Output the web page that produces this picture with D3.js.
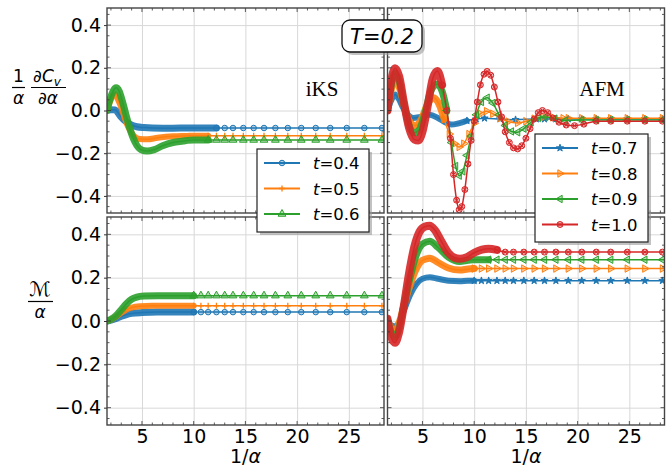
<!DOCTYPE html>
<html>
<head>
<meta charset="utf-8">
<script src="https://cdn.jsdelivr.net/npm/d3@7"></script>
<style>
  body { margin: 0; background: #fff; }
  svg { display: block; font-family: "DejaVu Sans", sans-serif; }
</style>
</head>
<body>
<div id="chart"></div>
<script>
// ---- data ----
var xDomain = [1.62, 28.4];
var yDomain = [-0.48, 0.48];
var xTicks = [5, 10, 15, 20, 25];
var yTicks = [-0.4, -0.2, 0.0, 0.2, 0.4];

// x positions of the sparse markers in the flat tails
var tailX = [10.0, 10.7, 11.4, 12.2, 13.0, 13.8, 14.8, 15.8, 16.8, 17.9, 19.1, 20.4, 21.8, 23.2, 24.8, 26.5, 28.2, 30.1];

var iksNames = ["0.4", "0.5", "0.6"];
var afmNames = ["0.7", "0.8", "0.9", "1.0"];

// iKS, (1/a) dCv/da
var iksC04 = [[1.62,0],[2.0,0.004],[2.4,0.003],[2.9,-0.025],[3.4,-0.05],[3.9,-0.066],[4.5,-0.076],[5.2,-0.08],[6,-0.082],[8,-0.083],[9.4,-0.082]];
var iksC05 = [[1.62,0],[1.9,0.04],[2.2,0.07],[2.4,0.075],[2.7,0.05],[3.0,0.015],[3.3,-0.03],[3.7,-0.08],[4.2,-0.118],[4.8,-0.134],[5.5,-0.135],[6.5,-0.128],[8,-0.121],[9.4,-0.119]];
var iksC06 = [[1.62,0],[1.9,0.05],[2.2,0.09],[2.5,0.106],[2.8,0.09],[3.1,0.045],[3.4,-0.01],[3.8,-0.08],[4.3,-0.145],[4.9,-0.183],[5.5,-0.19],[6.2,-0.183],[7,-0.165],[8,-0.15],[9,-0.143],[9.4,-0.14]];
var iksCTail = [-0.082, -0.118, -0.138];

// iKS, M/a
var iksM04 = [[1.62,0],[2,0.004],[2.5,0.012],[3,0.022],[3.5,0.03],[4,0.035],[5,0.039],[6.5,0.041],[9.4,0.041]];
var iksM05 = [[1.62,0],[2,0.006],[2.5,0.02],[3,0.038],[3.5,0.053],[4,0.062],[4.8,0.068],[6,0.07],[9.4,0.07]];
var iksM06 = [[1.62,0],[2,0.008],[2.5,0.025],[3,0.052],[3.5,0.08],[4,0.1],[4.5,0.11],[5.2,0.115],[6.5,0.117],[9.4,0.117]];
var iksMTail = [0.041, 0.07, 0.117];

// AFM, (1/a) dCv/da
var afmC07 = [[1.62,0],[2.0,0.05],[2.35,0.075],[2.7,0.055],[3.1,0.015],[3.6,-0.02],[4.1,-0.035],[4.8,-0.03],[5.7,-0.02],[6.5,-0.035],[7.2,-0.055],[7.8,-0.066],[8.5,-0.06],[9.3,-0.048],[10.2,-0.04],[11,-0.036],[12.5,-0.04],[14,-0.043],[16,-0.04]];
var afmC08 = [[1.62,0],[1.95,0.09],[2.35,0.145],[2.75,0.11],[3.2,0.03],[3.7,-0.045],[4.3,-0.071],[4.9,-0.04],[5.5,0.03],[6.05,0.06],[6.6,0.03],[7.1,-0.04],[7.6,-0.11],[8.1,-0.155],[8.55,-0.171],[9.0,-0.155],[9.5,-0.11],[10.0,-0.06],[10.6,-0.015],[11.2,-0.003],[11.8,-0.015],[12.5,-0.035],[13.3,-0.052],[14.2,-0.058],[15.0,-0.05],[15.8,-0.038],[16.7,-0.03],[17.6,-0.032],[18.6,-0.036]];
var afmC09 = [[1.62,0],[1.95,0.11],[2.35,0.175],[2.75,0.14],[3.2,0.03],[3.7,-0.07],[4.2,-0.105],[4.7,-0.09],[5.2,-0.02],[5.8,0.09],[6.4,0.123],[6.9,0.09],[7.35,0],[7.8,-0.15],[8.2,-0.26],[8.55,-0.305],[8.9,-0.285],[9.3,-0.21],[9.7,-0.12],[10.2,-0.02],[10.7,0.04],[11.25,0.06],[11.8,0.035],[12.4,-0.02],[13.0,-0.07],[13.6,-0.098],[14.2,-0.102],[14.8,-0.085],[15.5,-0.055],[16.2,-0.035],[16.9,-0.03],[17.8,-0.038],[18.8,-0.047]];
var afmC10 = [[1.62,0],[1.95,0.13],[2.35,0.198],[2.75,0.16],[3.2,0.04],[3.7,-0.08],[4.2,-0.135],[4.6,-0.14],[5.0,-0.1],[5.5,0.02],[6.0,0.15],[6.45,0.185],[6.9,0.12],[7.35,0],[7.7,-0.13],[8.0,-0.3],[8.3,-0.42],[8.55,-0.465],[8.8,-0.45],[9.1,-0.37],[9.4,-0.25],[9.7,-0.14],[10.0,-0.05],[10.3,0.04],[10.6,0.12],[10.95,0.17],[11.25,0.183],[11.6,0.165],[11.95,0.11],[12.3,0.04],[12.65,-0.03],[13.0,-0.1],[13.4,-0.15],[13.8,-0.175],[14.2,-0.18],[14.6,-0.165],[15.0,-0.13],[15.4,-0.085],[15.8,-0.04],[16.2,-0.01],[16.6,0.0],[17.1,-0.01],[17.6,-0.035],[18.2,-0.055],[18.9,-0.068],[19.7,-0.071],[20.6,-0.064]];
var afmCTail = [-0.04, -0.036, -0.045, -0.05];

// AFM, M/a
var afmM07 = [[1.62,0],[2.0,-0.02],[2.4,-0.025],[2.8,0.0],[3.3,0.06],[3.8,0.12],[4.4,0.17],[5.0,0.195],[5.7,0.202],[6.5,0.195],[7.5,0.186],[8.6,0.184],[9.4,0.186]];
var afmM08 = [[1.62,0.005],[2.0,-0.035],[2.35,-0.045],[2.7,-0.015],[3.2,0.07],[3.7,0.15],[4.3,0.23],[5.0,0.28],[5.7,0.29],[6.5,0.27],[7.5,0.245],[8.6,0.235],[9.4,0.24]];
var afmM09 = [[1.62,0.008],[2.0,-0.055],[2.35,-0.075],[2.7,-0.04],[3.2,0.07],[3.7,0.18],[4.3,0.29],[5.0,0.355],[5.7,0.368],[6.5,0.34],[7.5,0.295],[8.6,0.275],[9.4,0.28]];
var afmM10 = [[1.62,0.01],[1.95,-0.07],[2.35,-0.1],[2.7,-0.06],[3.2,0.07],[3.7,0.22],[4.2,0.34],[4.7,0.41],[5.2,0.435],[5.7,0.44],[6.2,0.42],[6.8,0.37],[7.5,0.315],[8.1,0.292],[8.6,0.287],[9.3,0.295],[10.0,0.315],[11.4,0.333],[12.2,0.328]];
var afmMTail = [0.186, 0.242, 0.283, 0.318];

// ---- styles ----
var colors = ["#1f77b4", "#ff7f0e", "#2ca02c", "#d62728"];

function withTail(pts, y) {
  var last = pts[pts.length - 1][0];
  return pts.concat(tailX.filter(function(x) { return x > last + 0.3; }).map(function(x) { return [x, y]; }));
}

var iksStyle = [
  {color: colors[0], marker: "circle", band: 7},
  {color: colors[1], marker: "plus", band: 6},
  {color: colors[2], marker: "triUp", band: 7}
];
var afmStyle = [
  {color: colors[0], marker: "star", band: 6},
  {color: colors[1], marker: "triRight", band: 7},
  {color: colors[2], marker: "triLeft", band: 7},
  {color: colors[3], marker: "octo", band: 8}
];

var panels = [
  {left: 107, right: 384, top: 8, bottom: 213, xLabels: false, yLabels: true,
   series: [withTail(iksC04, iksCTail[0]), withTail(iksC05, iksCTail[1]), withTail(iksC06, iksCTail[2])],
   cuts: [12, 11, 11], style: iksStyle},
  {left: 387.5, right: 664.5, top: 8, bottom: 213, xLabels: false, yLabels: false,
   series: [withTail(afmC07, afmCTail[0]), withTail(afmC08, afmCTail[1]), withTail(afmC09, afmCTail[2]), withTail(afmC10, afmCTail[3])],
   cuts: [9, 7, 7, 6.5], style: afmStyle},
  {left: 107, right: 384, top: 217, bottom: 425, xLabels: true, yLabels: true,
   series: [withTail(iksM04, iksMTail[0]), withTail(iksM05, iksMTail[1]), withTail(iksM06, iksMTail[2])],
   cuts: [10, 10, 10], style: iksStyle},
  {left: 387.5, right: 664.5, top: 217, bottom: 425, xLabels: true, yLabels: false,
   series: [withTail(afmM07, afmMTail[0]), withTail(afmM08, afmMTail[1]), withTail(afmM09, afmMTail[2]), withTail(afmM10, afmMTail[3])],
   cuts: [10, 10, 11, 12], style: afmStyle}
];

function markerPath(kind) {
  switch (kind) {
    case "circle": return d3.symbol(d3.symbolCircle, 24)();
    case "plus": return "M-3,0H3M0,-3V3";
    case "triUp": return d3.symbol(d3.symbolTriangle, 26)();
    case "star": return d3.symbol(d3.symbolStar, 16)();
    case "triRight": return d3.symbol(d3.symbolTriangle, 24)();
    case "triLeft": return d3.symbol(d3.symbolTriangle, 24)();
    case "octo": return d3.symbol(d3.symbolCircle, 28)() + "M-2.1,-2.1L2.1,2.1M-2.1,2.1L2.1,-2.1";
  }
}
function markerRot(kind) {
  if (kind === "triRight") return " rotate(90)";
  if (kind === "triLeft") return " rotate(-90)";
  return "";
}
function drawMarker(g, kind, color, x, y) {
  g.append("path")
    .attr("d", markerPath(kind))
    .attr("transform", "translate(" + x + "," + y + ")" + markerRot(kind))
    .attr("fill", kind === "plus" ? "none" : color)
    .attr("fill-opacity", kind === "star" ? 1 : 0.35)
    .attr("stroke", color)
    .attr("stroke-width", kind === "plus" ? 1.3 : 1);
}

var W = 670, H = 470;
var svg = d3.select("#chart").append("svg").attr("width", W).attr("height", H);
svg.append("rect").attr("width", W).attr("height", H).attr("fill", "white");

var defs = svg.append("defs");

panels.forEach(function(p, pi) {
  var x = d3.scaleLinear().domain(xDomain).range([p.left, p.right]);
  var y = d3.scaleLinear().domain(yDomain).range([p.bottom, p.top]);
  var g = svg.append("g");

  defs.append("clipPath").attr("id", "clip" + pi)
    .append("rect").attr("x", p.left).attr("y", p.top)
    .attr("width", p.right - p.left).attr("height", p.bottom - p.top);

  // grid
  g.append("g").attr("transform", "translate(0," + p.bottom + ")")
    .call(d3.axisBottom(x).tickValues(xTicks).tickSize(-(p.bottom - p.top)).tickFormat(""))
    .call(function(a) { a.select(".domain").remove(); a.selectAll("line").attr("stroke", "#d8d8d8").attr("stroke-width", 1); });
  g.append("g").attr("transform", "translate(" + p.left + ",0)")
    .call(d3.axisLeft(y).tickValues(yTicks).tickSize(-(p.right - p.left)).tickFormat(""))
    .call(function(a) { a.select(".domain").remove(); a.selectAll("line").attr("stroke", "#d8d8d8").attr("stroke-width", 1); });

  var plot = g.append("g").attr("clip-path", "url(#clip" + pi + ")");
  var line = d3.line().x(function(d) { return x(d[0]); }).y(function(d) { return y(d[1]); }).curve(d3.curveMonotoneX);

  p.series.forEach(function(pts, si) {
    var st = p.style[si], cut = p.cuts[si];
    var dense = pts.filter(function(d) { return d[0] <= cut + 0.4; });
    var sg = plot.append("g");
    sg.append("path").datum(dense).attr("d", line)
      .attr("fill", "none").attr("stroke", st.color).attr("stroke-opacity", 0.9)
      .attr("stroke-width", st.band).attr("stroke-linecap", "round").attr("stroke-linejoin", "round");
    sg.append("path").datum(pts).attr("d", line)
      .attr("fill", "none").attr("stroke", st.color).attr("stroke-width", 1.5);
    pts.filter(function(d) { return d[0] >= cut; }).forEach(function(d) {
      drawMarker(sg, st.marker, st.color, x(d[0]), y(d[1]));
    });
  });

  // minor / major ticks, inward on all sides
  var tk = g.append("g").attr("stroke", "#333").attr("stroke-width", 0.8);
  d3.range(2, 29).forEach(function(v) {
    var len = v % 5 === 0 ? 4 : 2.5;
    tk.append("line").attr("x1", x(v)).attr("x2", x(v)).attr("y1", p.bottom).attr("y2", p.bottom - len);
    tk.append("line").attr("x1", x(v)).attr("x2", x(v)).attr("y1", p.top).attr("y2", p.top + len);
  });
  d3.range(-9, 10).forEach(function(k) {
    var v = k * 0.05;
    var len = k % 4 === 0 ? 4 : 2.5;
    tk.append("line").attr("y1", y(v)).attr("y2", y(v)).attr("x1", p.left).attr("x2", p.left + len);
    tk.append("line").attr("y1", y(v)).attr("y2", y(v)).attr("x1", p.right).attr("x2", p.right - len);
  });

  g.append("rect").attr("x", p.left).attr("y", p.top)
    .attr("width", p.right - p.left).attr("height", p.bottom - p.top)
    .attr("fill", "none").attr("stroke", "#444").attr("stroke-width", 1.4);

  if (p.yLabels) {
    g.append("g").attr("transform", "translate(" + p.left + ",0)")
      .call(d3.axisLeft(y).tickValues(yTicks).tickSize(3).tickPadding(3).tickFormat(function(v) { return d3.format(".1f")(v).replace("-", "\u2212"); }))
      .call(function(a) { a.select(".domain").remove(); a.selectAll("line").attr("stroke", "#333");
        a.selectAll("text").attr("font-size", 19).attr("fill", "#000").attr("font-family", "DejaVu Sans"); });
  }
  if (p.xLabels) {
    g.append("g").attr("transform", "translate(0," + p.bottom + ")")
      .call(d3.axisBottom(x).tickValues(xTicks).tickSize(0).tickPadding(5))
      .call(function(a) { a.select(".domain").remove();
        a.selectAll("text").attr("font-size", 19).attr("fill", "#000").attr("font-family", "DejaVu Sans"); });
    var xl = g.append("text").attr("x", (p.left + p.right) / 2).attr("y", 463)
      .attr("text-anchor", "middle").attr("font-size", 19);
    xl.append("tspan").text("1/");
    xl.append("tspan").attr("font-style", "italic").text("\u03b1");
  }
});

// panel tags
svg.append("text").attr("x", 322).attr("y", 96).attr("text-anchor", "middle")
  .attr("font-family", "Liberation Serif").attr("font-size", 21).text("iKS");
svg.append("text").attr("x", 602).attr("y", 96).attr("text-anchor", "middle")
  .attr("font-family", "Liberation Serif").attr("font-size", 21).text("AFM");

// y labels
var yl = svg.append("g").attr("font-size", 17).attr("text-anchor", "middle");
yl.append("text").attr("x", 18.5).attr("y", 82).text("1");
yl.append("line").attr("x1", 12).attr("x2", 25).attr("y1", 87.5).attr("y2", 87.5).attr("stroke", "#000").attr("stroke-width", 1.2);
yl.append("text").attr("x", 18.5).attr("y", 104).attr("font-style", "italic").text("\u03b1");
var num = yl.append("text").attr("x", 47).attr("y", 82);
num.append("tspan").text("\u2202");
num.append("tspan").attr("font-style", "italic").text("C");
num.append("tspan").attr("font-style", "italic").attr("font-size", 12).attr("dy", 4).text("v");
yl.append("line").attr("x1", 31).attr("x2", 66).attr("y1", 87.5).attr("y2", 87.5).attr("stroke", "#000").attr("stroke-width", 1.2);
var den = yl.append("text").attr("x", 48).attr("y", 104);
den.append("tspan").text("\u2202");
den.append("tspan").attr("font-style", "italic").text("\u03b1");

yl.append("text").attr("x", 40).attr("y", 296).attr("font-size", 20).text("\u2133");
yl.append("line").attr("x1", 28).attr("x2", 53).attr("y1", 301.5).attr("y2", 301.5).attr("stroke", "#000").attr("stroke-width", 1.2);
yl.append("text").attr("x", 40).attr("y", 318).attr("font-style", "italic").text("\u03b1");

// legends
function legend(x0, y0, w, h, names, styles) {
  var lg = svg.append("g");
  lg.append("rect").attr("x", x0 + 3).attr("y", y0 + 3).attr("width", w).attr("height", h).attr("fill", "#999").attr("fill-opacity", 0.6);
  lg.append("rect").attr("x", x0).attr("y", y0).attr("width", w).attr("height", h).attr("fill", "white").attr("stroke", "#222").attr("stroke-width", 1.2);
  names.forEach(function(n, i) {
    var cy = y0 + 14 + i * 25.5;
    lg.append("line").attr("x1", x0 + 7).attr("x2", x0 + 43).attr("y1", cy).attr("y2", cy)
      .attr("stroke", styles[i].color).attr("stroke-width", 1.8);
    drawMarker(lg, styles[i].marker, styles[i].color, x0 + 25, cy);
    var t = lg.append("text").attr("x", x0 + 56).attr("y", cy + 6).attr("font-size", 16.5);
    t.append("tspan").attr("font-style", "italic").text("t");
    t.append("tspan").text("=" + n);
  });
}
legend(257, 149, 112, 83, iksNames, iksStyle);
legend(535, 134, 113, 108, afmNames, afmStyle);

// title box
var tb = svg.append("g");
tb.append("rect").attr("x", 345).attr("y", 23).attr("width", 80).attr("height", 32).attr("rx", 8).attr("fill", "#999").attr("fill-opacity", 0.6);
tb.append("rect").attr("x", 342).attr("y", 20).attr("width", 80).attr("height", 32).attr("rx", 8).attr("fill", "white").attr("stroke", "#111").attr("stroke-width", 1.3);
tb.append("text").attr("x", 382).attr("y", 44).attr("text-anchor", "middle").attr("font-size", 21).attr("font-style", "italic").text("T=0.2");
</script>
</body>
</html>
